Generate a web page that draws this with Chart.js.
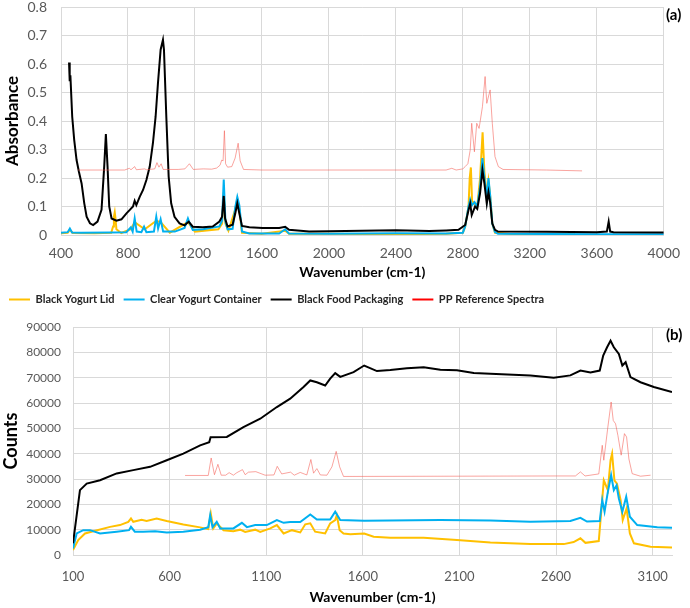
<!DOCTYPE html>
<html>
<head>
<meta charset="utf-8">
<script src="https://cdn.jsdelivr.net/npm/chart.js@4.4.1/dist/chart.umd.min.js"></script>
<style>
  body { margin: 0; background: #fff; }
  #top { position: absolute; left: 0; top: 0; width: 690px; height: 285px; }
  #bottom { position: absolute; left: 0; top: 285px; width: 690px; height: 323px; }
</style>
</head>
<body>
<div id="top"><canvas id="absChart"></canvas></div>
<div id="bottom"><canvas id="ramanChart"></canvas></div>
<script>
"use strict";

// series names and colours
const seriesNames = ['Black Yogurt Lid', 'Clear Yogurt Container', 'Black Food Packaging', 'PP Reference Spectra'];
const seriesColors = ['#FFC000', '#00B0F0', '#000000', '#FF0000'];

// (a) FTIR absorbance - tick settings
const absXTicks = [400, 4000, 400];   // min, max, step
const absYTicks = [0, 0.8, 0.1];

// (a) Black Yogurt Lid
const lidAbsWn = [400, 440, 453, 470, 600, 700, 711, 716, 721, 726, 731, 760, 817, 840, 900, 969, 995, 1050, 1158, 1200, 1340, 1362, 1372, 1382, 1400, 1441, 1453, 1465, 1481, 1600, 1739, 1762, 2000, 2400, 2700, 2800, 2814, 2834, 2841, 2848, 2855, 2870, 2886, 2903, 2918, 2929, 2943, 2953, 2963, 2976, 2992, 3100, 3470];
const lidAbs   = [0.006, 0.008, 0.018, 0.007, 0.006, 0.008, 0.03, 0.065, 0.08, 0.055, 0.02, 0.007, 0.02, 0.045, 0.02, 0.05, 0.045, 0.008, 0.045, 0.012, 0.02, 0.04, 0.15, 0.04, 0.015, 0.09, 0.125, 0.09, 0.008, 0.004, 0.015, 0.004, 0.004, 0.003, 0.004, 0.008, 0.03, 0.1, 0.2, 0.237, 0.12, 0.11, 0.1, 0.2, 0.36, 0.22, 0.14, 0.19, 0.14, 0.04, 0.008, 0.003, 0.003];

// (a) Clear Yogurt Container
const clearAbsWn = [400, 440, 453, 466, 520, 700, 790, 817, 828, 840, 852, 880, 896, 910, 955, 969, 980, 995, 1010, 1080, 1138, 1158, 1166, 1187, 1250, 1346, 1362, 1372, 1382, 1395, 1425, 1441, 1453, 1465, 1481, 1525, 1703, 1739, 1762, 2000, 2400, 2700, 2800, 2814, 2834, 2844, 2855, 2870, 2886, 2903, 2917, 2929, 2943, 2953, 2963, 2976, 2992, 3010, 3600, 4000];
const clearAbs   = [0.008, 0.01, 0.023, 0.009, 0.008, 0.009, 0.01, 0.027, 0.012, 0.058, 0.012, 0.01, 0.029, 0.01, 0.012, 0.064, 0.023, 0.055, 0.012, 0.012, 0.025, 0.058, 0.045, 0.018, 0.02, 0.03, 0.05, 0.195, 0.047, 0.02, 0.022, 0.099, 0.134, 0.105, 0.012, 0.005, 0.005, 0.02, 0.005, 0.004, 0.006, 0.005, 0.008, 0.03, 0.1, 0.125, 0.105, 0.115, 0.1, 0.17, 0.27, 0.2, 0.13, 0.2, 0.14, 0.04, 0.01, 0.004, 0.003, 0.003];

// (a) Black Food Packaging
const foodAbsWn = [448, 452, 456, 467, 479, 493, 507, 523, 539, 553, 573, 592, 618, 642, 658, 668, 678, 688, 702, 731, 761, 791, 811, 830, 840, 850, 870, 890, 910, 930, 949, 965, 979, 995, 1009, 1015, 1029, 1043, 1058, 1078, 1108, 1138, 1163, 1187, 1247, 1306, 1346, 1362, 1372, 1380, 1395, 1425, 1441, 1453, 1465, 1481, 1525, 1604, 1703, 1739, 1762, 1882, 2000, 2200, 2400, 2600, 2700, 2774, 2814, 2834, 2844, 2853, 2873, 2886, 2903, 2917, 2929, 2943, 2953, 2963, 2976, 2992, 3010, 3300, 3600, 3660, 3671, 3680, 3700, 4000];
const foodAbs   = [0.605, 0.54, 0.56, 0.415, 0.333, 0.263, 0.222, 0.181, 0.111, 0.064, 0.041, 0.035, 0.047, 0.088, 0.24, 0.354, 0.24, 0.1, 0.058, 0.05, 0.055, 0.076, 0.088, 0.1, 0.12, 0.105, 0.134, 0.158, 0.193, 0.24, 0.322, 0.415, 0.532, 0.65, 0.685, 0.65, 0.415, 0.205, 0.111, 0.064, 0.041, 0.034, 0.047, 0.029, 0.027, 0.03, 0.047, 0.064, 0.137, 0.058, 0.03, 0.036, 0.076, 0.111, 0.076, 0.032, 0.027, 0.025, 0.025, 0.029, 0.018, 0.012, 0.013, 0.015, 0.017, 0.014, 0.016, 0.018, 0.035, 0.088, 0.11, 0.07, 0.1, 0.092, 0.147, 0.228, 0.18, 0.11, 0.15, 0.115, 0.04, 0.018, 0.012, 0.011, 0.01, 0.012, 0.047, 0.012, 0.01, 0.009];

// (a) PP Reference Spectra
const ppAbsWn = [501, 780, 808, 818, 840, 850, 900, 910, 960, 973, 985, 998, 1010, 1100, 1140, 1167, 1190, 1250, 1300, 1330, 1350, 1360, 1368, 1376, 1383, 1395, 1420, 1440, 1458, 1470, 1490, 1600, 2600, 2700, 2734, 2760, 2800, 2814, 2830, 2844, 2853, 2869, 2883, 2897, 2917, 2933, 2943, 2963, 2976, 2992, 3012, 3040, 3300, 3512];
const ppAbs   = [0.228, 0.228, 0.234, 0.229, 0.24, 0.229, 0.232, 0.229, 0.232, 0.254, 0.238, 0.25, 0.23, 0.23, 0.232, 0.25, 0.23, 0.232, 0.231, 0.235, 0.245, 0.263, 0.26, 0.366, 0.25, 0.238, 0.24, 0.27, 0.322, 0.26, 0.23, 0.228, 0.228, 0.228, 0.234, 0.228, 0.232, 0.24, 0.25, 0.298, 0.392, 0.292, 0.392, 0.374, 0.45, 0.556, 0.462, 0.509, 0.392, 0.275, 0.24, 0.23, 0.228, 0.225];

// (b) Raman counts - tick settings
const ramanXTicks = [100, 600, 1100, 1600, 2100, 2600, 3100];
const ramanXRange = [100, 3200];
const ramanYTicks = [0, 90000, 10000];

// (b) Black Yogurt Lid
const lidCntWn = [100, 127, 162, 205, 292, 343, 386, 400, 412, 455, 481, 533, 585, 671, 758, 800, 813, 826, 844, 879, 930, 965, 991, 1043, 1069, 1121, 1155, 1190, 1233, 1276, 1302, 1328, 1353, 1405, 1431, 1457, 1465, 1480, 1500, 1535, 1607, 1656, 1742, 1915, 2087, 2260, 2467, 2640, 2691, 2726, 2752, 2821, 2833, 2847, 2868, 2882, 2890, 2902, 2915, 2934, 2945, 2965, 2982, 3003, 3089, 3200];
const lidCnt   = [2000, 5900, 8500, 9400, 11100, 11800, 13100, 14400, 13100, 13900, 13400, 14400, 13400, 12000, 10900, 10200, 16400, 10500, 12500, 9800, 9400, 10000, 9100, 10000, 9100, 10500, 11800, 8500, 9800, 8900, 12100, 12500, 9200, 8500, 12500, 13800, 15700, 9800, 8500, 8200, 8500, 7200, 6800, 6800, 5900, 4900, 4300, 4300, 5100, 6600, 4800, 5500, 16400, 29500, 25600, 37400, 40000, 29500, 28200, 21700, 13800, 18400, 8500, 4600, 3300, 3000];

// (b) Clear Yogurt Container
const clearCntWn = [100, 119, 153, 188, 240, 326, 390, 400, 420, 463, 525, 585, 671, 758, 800, 810, 822, 844, 862, 930, 974, 1000, 1043, 1103, 1155, 1190, 1224, 1276, 1328, 1362, 1431, 1457, 1483, 1607, 2000, 2260, 2467, 2674, 2726, 2760, 2826, 2839, 2851, 2868, 2885, 2899, 2913, 2925, 2943, 2963, 2982, 3020, 3124, 3200];
const clearCnt   = [2600, 8500, 9800, 9800, 8500, 9200, 9800, 11100, 9200, 9200, 9400, 8900, 9200, 10000, 11000, 15700, 11000, 13100, 10500, 10500, 12700, 11000, 11800, 11800, 13800, 12700, 13000, 13000, 16000, 14000, 14000, 17100, 13800, 13500, 13800, 13600, 13100, 13400, 14700, 13200, 13400, 21700, 17100, 24900, 31500, 25600, 27500, 22300, 17100, 23000, 15100, 11800, 11000, 10800];

// (b) Black Food Packaging
const foodCntWn = [100, 136, 171, 240, 326, 412, 499, 585, 671, 758, 805, 812, 896, 982, 1069, 1155, 1224, 1293, 1328, 1362, 1405, 1431, 1457, 1483, 1552, 1607, 1673, 1742, 1828, 1915, 2001, 2087, 2174, 2260, 2467, 2588, 2674, 2726, 2778, 2826, 2844, 2864, 2882, 2899, 2925, 2943, 2960, 2985, 3037, 3106, 3200];
const foodCnt   = [4600, 25600, 28200, 29500, 32200, 33500, 34800, 37400, 40000, 43300, 44500, 46500, 46600, 50500, 53800, 58400, 61700, 66300, 68900, 68200, 66900, 69600, 71800, 70300, 72200, 74800, 72600, 73000, 73700, 74100, 73100, 72900, 71800, 71500, 70900, 70000, 70900, 72800, 72000, 72800, 78700, 82000, 84600, 82000, 79400, 74800, 76100, 70200, 68200, 66300, 64300];

// (b) PP Reference Spectra
const ppCntWn = [680, 800, 815, 832, 850, 867, 890, 908, 930, 948, 977, 991, 1008, 1046, 1094, 1140, 1157, 1180, 1226, 1245, 1276, 1310, 1331, 1345, 1362, 1380, 1414, 1440, 1462, 1480, 1500, 2600, 2700, 2726, 2750, 2821, 2839, 2847, 2868, 2885, 2896, 2908, 2920, 2937, 2954, 2965, 2977, 2994, 3037, 3089];
const ppCnt   = [31400, 31400, 38300, 31700, 35800, 31500, 31500, 32500, 31500, 32500, 33700, 31700, 32700, 32900, 31500, 31600, 35000, 32000, 32700, 31500, 32600, 31600, 37700, 32300, 34100, 31600, 31500, 34800, 40900, 34800, 31000, 31200, 31200, 32800, 31200, 32000, 43300, 37400, 50500, 60400, 53100, 51800, 47200, 39400, 47900, 46600, 37900, 32100, 31100, 31500];

const FONT = 'Lato, "Open Sans", sans-serif';
const GRID = '#d9d9d9';
const TICK = '#595959';

/**
 * Gör om två arrayer till punkter för Chart.js
 */
function pts(xs, ys) {
    return xs.map((x, i) => ({ x: x, y: ys[i] }));
}

/**
 * Skapar dataset för en panel, svart ritas överst
 */
function makeDatasets(sets) {
    return sets.map((s, i) => ({
        label: seriesNames[i],
        data: pts(s[0], s[1]),
        borderColor: i === 3 ? 'rgba(244, 90, 80, 0.55)' : seriesColors[i],
        backgroundColor: seriesColors[i],
        borderWidth: i === 3 ? 1 : 2,
        pointRadius: 0,
        tension: 0,
        order: [3, 2, 1, 0][i]
    }));
}

// ritar "(a)" / "(b)" i hörnet
const panelTag = {
    id: 'panelTag',
    afterDraw(chart, args, opts) {
        const ctx = chart.ctx;
        ctx.save();
        ctx.font = 'bold 15px ' + FONT;
        ctx.fillStyle = '#000';
        ctx.textBaseline = 'middle';
        ctx.fillText(opts.text, opts.x, opts.y);
        ctx.restore();
    }
};

// extra luft under legenden
const legendGap = {
    id: 'legendGap',
    beforeLayout(chart, args, opts) {
        const lg = chart.legend;
        if (lg && !lg._gapPatched) {
            const fit = lg.fit.bind(lg);
            lg.fit = function () { fit(); this.height += opts.gap; };
            lg._gapPatched = true;
        }
    }
};

const plainTick = v => String(v);

function createAbsChart() {
    const ctx = document.getElementById('absChart').getContext('2d');
    new Chart(ctx, {
        type: 'line',
        data: {
            datasets: makeDatasets([
                [lidAbsWn, lidAbs], [clearAbsWn, clearAbs], [foodAbsWn, foodAbs], [ppAbsWn, ppAbs]
            ])
        },
        plugins: [panelTag],
        options: {
            responsive: true,
            maintainAspectRatio: false,
            animation: false,
            layout: { padding: { left: 0, right: 24, top: 0, bottom: 0 } },
            plugins: {
                legend: { display: false },
                tooltip: { enabled: false },
                panelTag: { text: '(a)', x: 666, y: 15 }
            },
            scales: {
                x: {
                    type: 'linear',
                    min: absXTicks[0],
                    max: absXTicks[1],
                    afterFit: s => { s.height = 50; },
                    ticks: { stepSize: absXTicks[2], color: TICK, font: { family: FONT, size: 14 }, padding: 10, maxRotation: 0, callback: plainTick },
                    grid: { color: GRID, drawTicks: false },
                    border: { color: GRID },
                    title: { display: true, text: 'Wavenumber (cm-1)', color: '#000', font: { family: FONT, size: 14, weight: 'bold' }, padding: { top: 0, bottom: 4 } }
                },
                y: {
                    min: absYTicks[0],
                    max: absYTicks[1],
                    afterFit: s => { s.width = 61; s.paddingTop = 7; s.paddingBottom = 8; },
                    ticks: { stepSize: absYTicks[2], color: TICK, font: { family: FONT, size: 14 }, padding: 14,
                             callback: v => v === 0 ? '0' : v.toFixed(1) },
                    grid: { color: GRID, drawTicks: false },
                    border: { color: GRID },
                    title: { display: true, text: 'Absorbance', color: '#000', font: { family: FONT, size: 17, weight: 'bold' }, padding: { top: 2, bottom: 0 } }
                }
            }
        }
    });
}

function createRamanChart() {
    const ctx = document.getElementById('ramanChart').getContext('2d');
    new Chart(ctx, {
        type: 'line',
        data: {
            datasets: makeDatasets([
                [lidCntWn, lidCnt], [clearCntWn, clearCnt], [foodCntWn, foodCnt], [ppCntWn, ppCnt]
            ])
        },
        plugins: [panelTag, legendGap],
        options: {
            responsive: true,
            maintainAspectRatio: false,
            animation: false,
            layout: { padding: { left: 0, right: 18, top: 0, bottom: 0 } },
            plugins: {
                legend: {
                    display: true,
                    position: 'top',
                    align: 'start',
                    labels: {
                        boxWidth: 21,
                        boxHeight: 2,
                        padding: 9,
                        color: '#262626',
                        font: { family: FONT, size: 11, weight: 'bold' },
                        generateLabels: chart => chart.data.datasets.map((d, i) => ({
                            text: d.label,
                            fillStyle: seriesColors[i],
                            strokeStyle: seriesColors[i],
                            lineWidth: 0,
                            fontColor: '#262626',
                            datasetIndex: i
                        }))
                    }
                },
                legendGap: { gap: 12 },
                tooltip: { enabled: false },
                panelTag: { text: '(b)', x: 666, y: 50 }
            },
            scales: {
                x: {
                    type: 'linear',
                    min: ramanXRange[0],
                    max: ramanXRange[1],
                    afterFit: s => { s.height = 53; },
                    afterBuildTicks: s => { s.ticks = ramanXTicks.map(v => ({ value: v })); },
                    ticks: { color: TICK, font: { family: FONT, size: 13 }, padding: 14, maxRotation: 0, callback: plainTick },
                    grid: { color: GRID, drawTicks: false },
                    border: { color: GRID },
                    title: { display: true, text: 'Wavenumber (cm-1)', color: '#000', font: { family: FONT, size: 14, weight: 'bold' }, padding: { top: 0, bottom: 2 } }
                },
                y: {
                    min: ramanYTicks[0],
                    max: ramanYTicks[1],
                    afterFit: s => { s.width = 73; s.paddingTop = 7; s.paddingBottom = 7; },
                    ticks: { stepSize: ramanYTicks[2], color: TICK, font: { family: FONT, size: 12 }, padding: 12, callback: plainTick },
                    grid: { color: GRID, drawTicks: false },
                    border: { color: GRID },
                    title: { display: true, text: 'Counts', color: '#000', font: { family: FONT, size: 18, weight: 'bold' }, padding: { top: 0, bottom: 0 } }
                }
            }
        }
    });
}

window.onload = () => {
    createAbsChart();
    createRamanChart();
};
</script>
</body>
</html>
